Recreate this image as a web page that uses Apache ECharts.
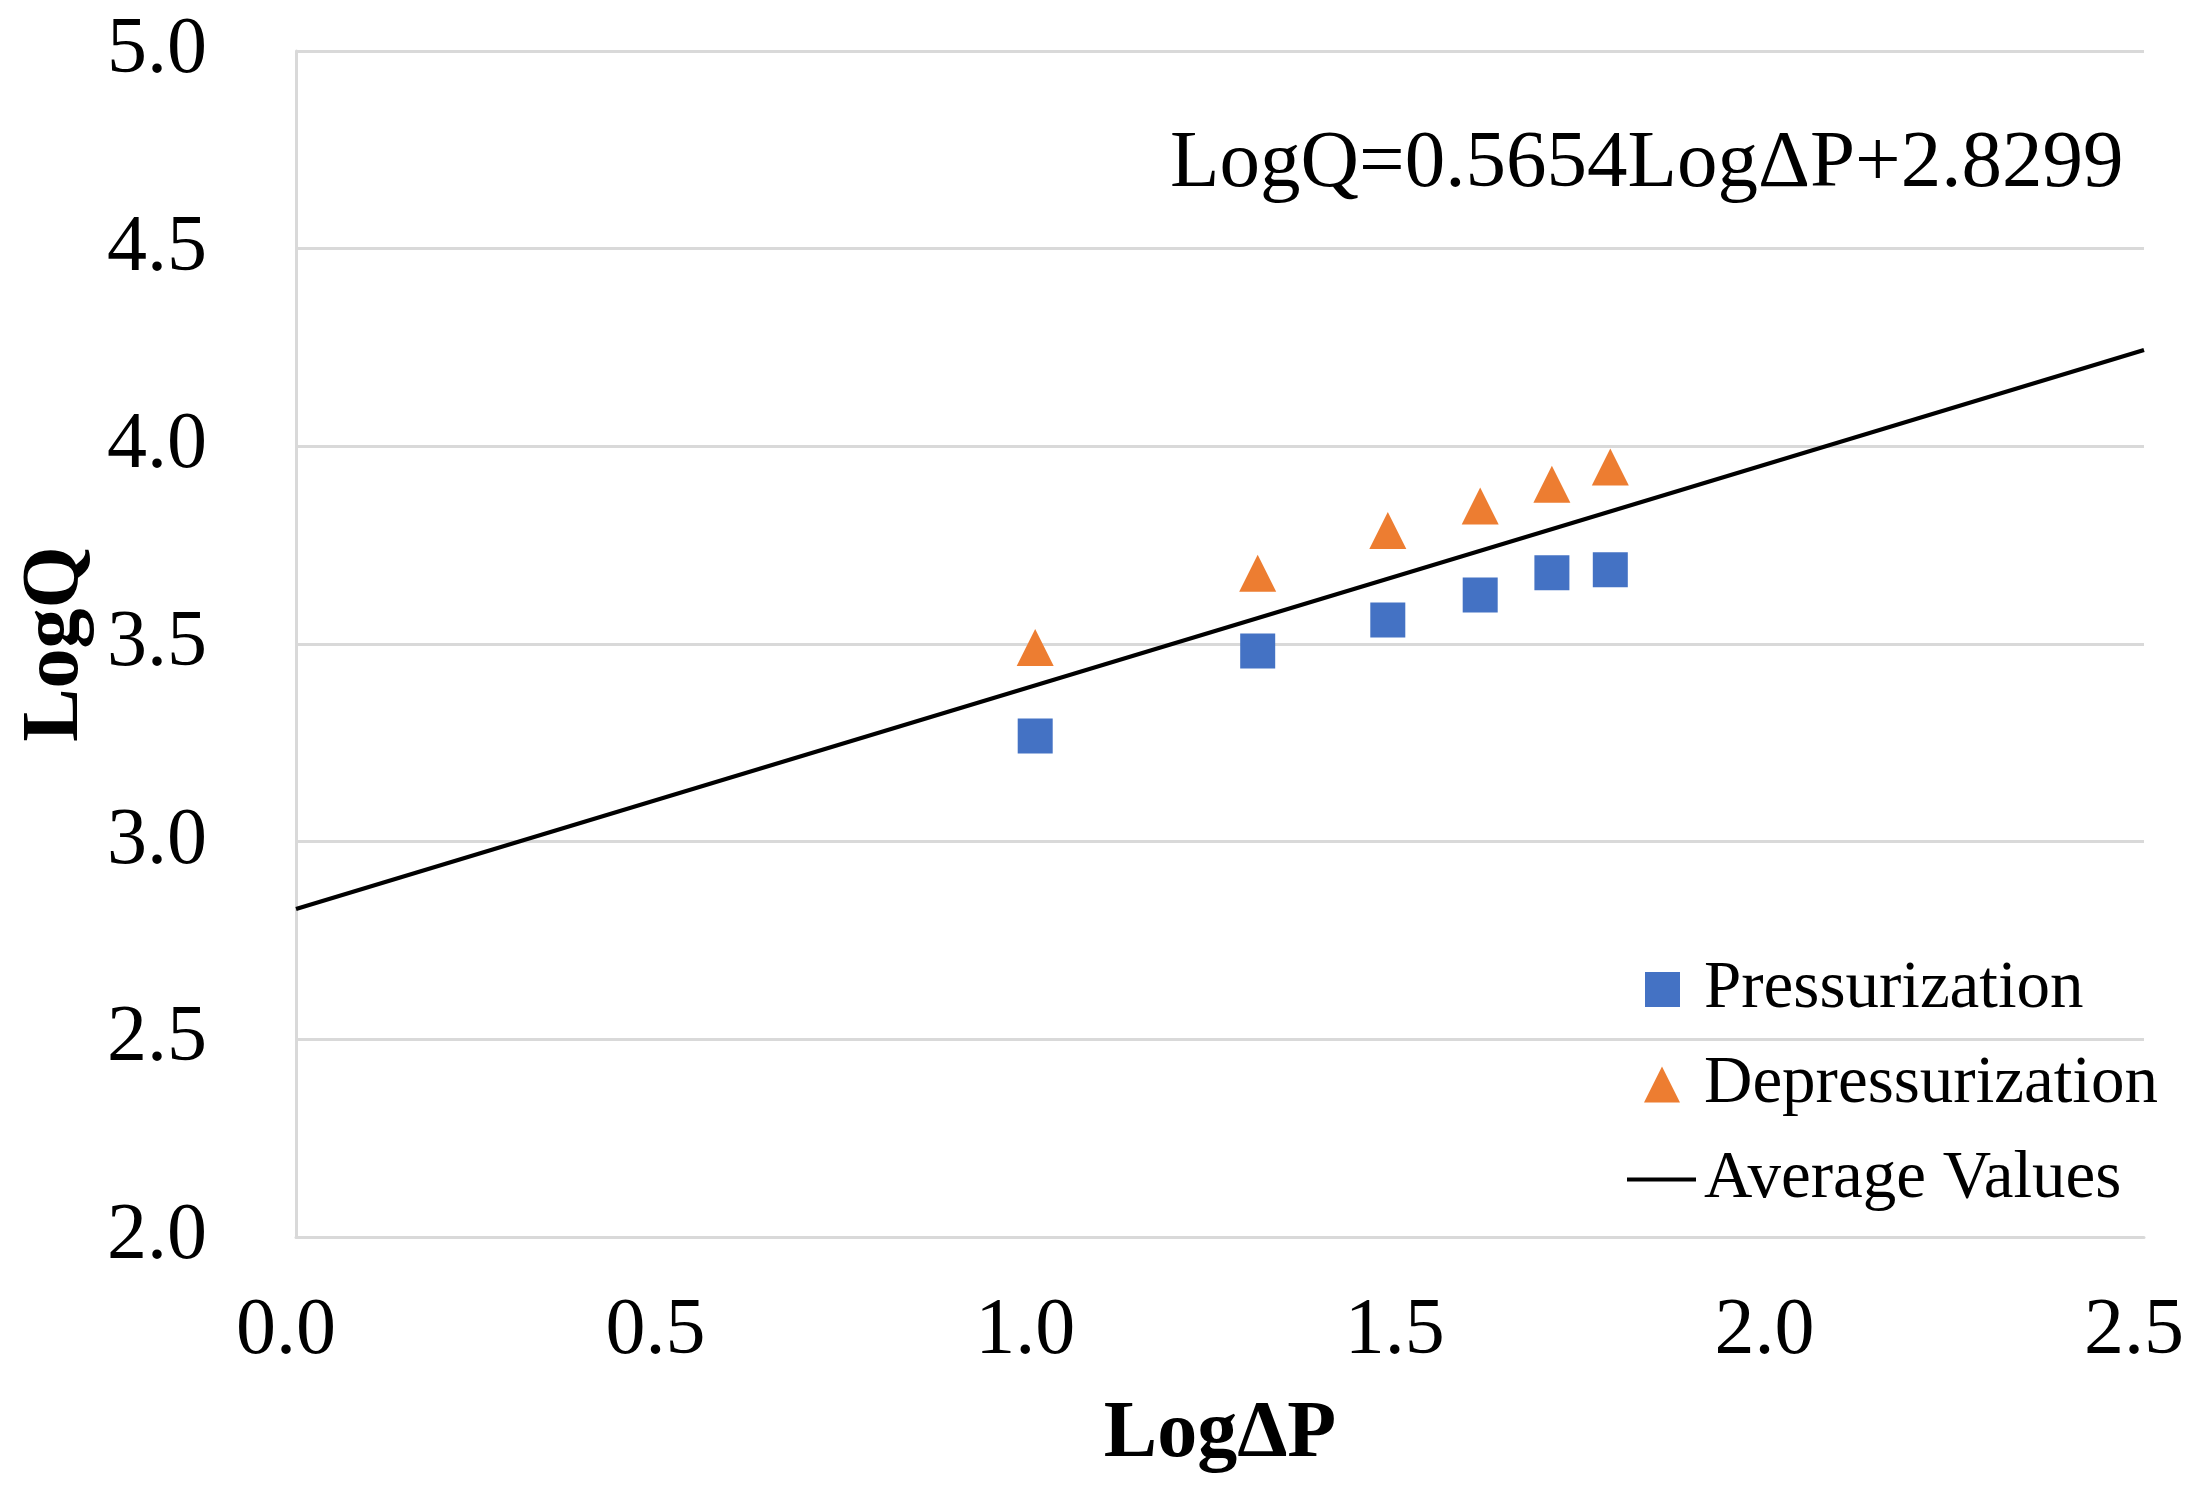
<!DOCTYPE html>
<html>
<head>
<meta charset="utf-8">
<script src="https://cdn.jsdelivr.net/npm/echarts@6/dist/echarts.min.js"></script>
<style>
html,body{margin:0;padding:0;background:#fff;}
#chart{width:2201px;height:1498px;}
</style>
</head>
<body>
<div id="chart"></div>
<script>
const xTicks = [0.0, 0.5, 1.0, 1.5, 2.0, 2.5];
const yTicks = [2.0, 2.5, 3.0, 3.5, 4.0, 4.5, 5.0];
const logDP = [1.000, 1.301, 1.477, 1.602, 1.699, 1.778];
const pressurization = [3.267, 3.482, 3.561, 3.624, 3.680, 3.688];
const depressurization = [3.491, 3.679, 3.787, 3.849, 3.904, 3.948];
const avgX = [0.0, 2.5];
const avgY = [2.8299, 4.2434];
const equationText = 'LogQ=0.5654LogΔP+2.8299';

const FONT = '"Liberation Serif", "Times New Roman", serif';
const chart = echarts.init(document.getElementById('chart'), null, {renderer: 'canvas'});

const zip = (a, b) => a.map((v, i) => [v, b[i]]);

chart.setOption({
  animation: false,
  backgroundColor: '#ffffff',
  textStyle: {fontFamily: FONT, color: '#000'},
  title: {
    text: equationText,
    left: 1170,
    top: 124,
    padding: 0,
    textStyle: {fontFamily: FONT, fontSize: 81, fontWeight: 'normal', color: '#000'}
  },
  grid: {left: 296, top: 51, right: 57, bottom: 261},
  xAxis: {
    type: 'value',
    min: xTicks[0],
    max: xTicks[xTicks.length - 1],
    interval: 0.5,
    name: 'LogΔP',
    nameLocation: 'middle',
    nameGap: 158,
    nameTextStyle: {fontFamily: FONT, fontSize: 80, fontWeight: 'bold', color: '#000'},
    axisLine: {show: true, onZero: false, lineStyle: {color: '#d9d9d9', width: 3}},
    axisTick: {show: false},
    splitLine: {show: false},
    axisLabel: {
      margin: 55,
      padding: [0, 20, 0, 0],
      fontFamily: FONT, fontSize: 80, color: '#000',
      formatter: v => v.toFixed(1)
    }
  },
  yAxis: {
    type: 'value',
    min: yTicks[0],
    max: yTicks[yTicks.length - 1],
    interval: 0.5,
    name: 'LogQ',
    nameLocation: 'middle',
    nameGap: 195,
    nameRotate: 90,
    nameTextStyle: {fontFamily: FONT, fontSize: 80, fontWeight: 'bold', color: '#000'},
    axisLine: {show: true, lineStyle: {color: '#d9d9d9', width: 3}},
    axisTick: {show: false},
    splitLine: {show: true, lineStyle: {color: '#d9d9d9', width: 3}},
    axisLabel: {
      margin: 89,
      fontFamily: FONT, fontSize: 80, color: '#000',
      formatter: v => v.toFixed(1)
    }
  },
  legend: [
    {
      data: [{name: 'Pressurization', icon: 'rect'}],
      left: 1645, top: 956, padding: 0,
      itemWidth: 35, itemHeight: 35,
      textStyle: {fontFamily: FONT, fontSize: 67, color: '#000', padding: [0, 0, 0, 19]}
    },
    {
      data: [{name: 'Depressurization', icon: 'triangle'}],
      left: 1644, top: 1051, padding: 0,
      itemWidth: 36, itemHeight: 36,
      textStyle: {fontFamily: FONT, fontSize: 67, color: '#000', padding: [0, 0, 0, 19]}
    },
    {
      data: [{name: 'Average Values', icon: 'rect'}],
      left: 1627, top: 1146, padding: 0,
      itemWidth: 69, itemHeight: 4,
      itemStyle: {color: '#000'},
      textStyle: {fontFamily: FONT, fontSize: 67, color: '#000', padding: [0, 0, 0, 3]}
    }
  ],
  series: [
    {
      name: 'Average Values',
      type: 'line',
      data: zip(avgX, avgY),
      showSymbol: false,
      symbol: 'none',
      lineStyle: {color: '#000', width: 4.2},
      itemStyle: {color: '#000'},
      z: 1
    },
    {
      name: 'Pressurization',
      type: 'scatter',
      data: zip(logDP, pressurization),
      symbol: 'rect',
      symbolSize: 35,
      itemStyle: {color: '#4472C4', opacity: 1},
      z: 3
    },
    {
      name: 'Depressurization',
      type: 'scatter',
      data: zip(logDP, depressurization),
      symbol: 'triangle',
      symbolSize: 37,
      itemStyle: {color: '#ED7D31', opacity: 1},
      z: 3
    }
  ]
});
</script>
</body>
</html>
